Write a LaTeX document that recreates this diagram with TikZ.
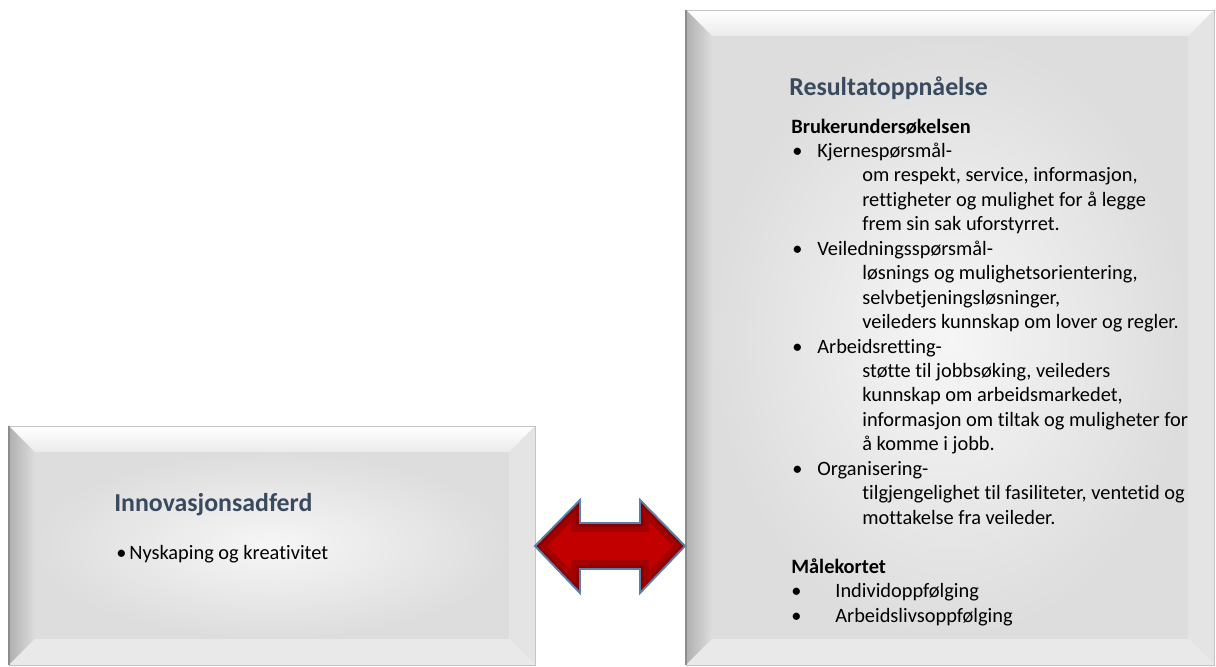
\documentclass[tikz,border=0pt]{standalone}
\usepackage{fontspec}
\setmainfont{Carlito}[Ligatures={NoCommon}]
\usetikzlibrary{calc}
\definecolor{titleblue}{HTML}{3A4A5E}
\definecolor{facelight}{HTML}{F6F6F6}
\definecolor{facedark}{HTML}{DDDDDD}
\definecolor{bevtop}{HTML}{FFFFFF}
\definecolor{bevleft}{HTML}{B0B0B0}
\definecolor{bevright}{HTML}{E4E4E4}
\definecolor{bevbottom}{HTML}{E9E9E9}
\definecolor{boxedge}{HTML}{C4C4C4}
\definecolor{arrowred}{HTML}{C20000}
\definecolor{arrowdark}{HTML}{5E0000}
\definecolor{arrowedge}{HTML}{5B7FA6}
\newcommand{\bev}{26}
\newcommand{\rowsep}{24.45}
% bevelled box: x1, y1 (top left), x2, y2 (bottom right)
\newcommand{\prbevel}[4]{
  \shade[inner color=facelight,outer color=facedark] ({#1+\bev},{#2+\bev}) rectangle ({#3-\bev},{#4-\bev});
  \shade[top color=bevtop,bottom color=facedark!60!white] (#1,#2) -- (#3,#2) -- ({#3-\bev},{#2+\bev}) -- ({#1+\bev},{#2+\bev}) -- cycle;
  \shade[left color=bevleft,right color=facedark] (#1,#2) -- ({#1+\bev},{#2+\bev}) -- ({#1+\bev},{#4-\bev}) -- (#1,#4) -- cycle;
  \fill[bevright] (#3,#2) -- (#3,#4) -- ({#3-\bev},{#4-\bev}) -- ({#3-\bev},{#2+\bev}) -- cycle;
  \fill[bevbottom] (#1,#4) -- ({#1+\bev},{#4-\bev}) -- ({#3-\bev},{#4-\bev}) -- (#3,#4) -- cycle;
  \draw[boxedge,line width=0.5pt] (#1,#2) rectangle (#3,#4);
  \draw[black!45,line width=0.8pt] (#1,#2) -- (#1,#4);
}
\newcommand{\prline}[4]{\node[bodytext] (#1) at (#2,{133+\rowsep*#3}) {#4};}
\newcommand{\prbul}[2]{\node[bodytext] (bul#1) at (#2,{133+\rowsep*#1}) {•};}
\newcommand{\arrowpath}{(aL) -- ++(45,-46) -- ++(0,23) -- ++(60,0) -- ++(0,-23) -- (aR) -- ++(-45,47) -- ++(0,-24) -- ++(-60,0) -- ++(0,24) -- cycle}
\tikzset{
  boxtitle/.style={anchor=base west,inner sep=0pt,text=titleblue,font=\fontsize{14.7}{17}\selectfont\bfseries},
  bodytext/.style={anchor=base west,inner sep=0pt,font=\fontsize{11.6}{13.9}\selectfont}
}

\begin{document}
\begin{tikzpicture}[x=0.02cm,y=-0.02cm]
    \useasboundingbox (0,0) rectangle (1216,666);

    \prbevel{9}{426}{535}{665}
    \prbevel{686}{10}{1214}{665}

    % double arrow between the boxes
    \coordinate (aL) at (535,546);
    \coordinate (aR) at (685,546);
    \fill[arrowred] \arrowpath;
    \begin{scope}
      \clip \arrowpath;
      \draw[arrowdark,line width=10pt,opacity=.3] \arrowpath;
      \draw[arrowdark,line width=4pt,opacity=.35] \arrowpath;
    \end{scope}
    \draw[arrowedge,line width=1.1pt] \arrowpath;

    % left box
    \node[boxtitle] (innov) at (114,511) {Innovasjonsadferd};
    \node[bodytext] (innovbul) at (116,559) {•};
    \node[bodytext] (nyskap) at (129,559) {Nyskaping og kreativitet};

    % right box
    \node[boxtitle] (result) at (789,95) {Resultatoppnåelse};
    \prline{bruker}{791}{0}{\bfseries Brukerundersøkelsen}
    \prbul{1}{792}
    \prline{kjerne}{817}{1}{Kjernespørsmål-}
    \prline{kjerneA}{862}{2}{om respekt, service, informasjon,}
    \prline{kjerneB}{862}{3}{rettigheter og mulighet for å legge}
    \prline{kjerneC}{862}{4}{frem sin sak uforstyrret.}
    \prbul{5}{792}
    \prline{veil}{817}{5}{Veiledningsspørsmål-}
    \prline{veilA}{862}{6}{løsnings og mulighetsorientering,}
    \prline{veilB}{862}{7}{selvbetjeningsløsninger,}
    \prline{veilC}{862}{8}{veileders kunnskap om lover og regler.}
    \prbul{9}{792}
    \prline{arb}{817}{9}{Arbeidsretting-}
    \prline{arbA}{862}{10}{støtte til jobbsøking, veileders}
    \prline{arbB}{862}{11}{kunnskap om arbeidsmarkedet,}
    \prline{arbC}{862}{12}{informasjon om tiltak og muligheter for}
    \prline{arbD}{862}{13}{å komme i jobb.}
    \prbul{14}{792}
    \prline{org}{817}{14}{Organisering-}
    \prline{orgA}{862}{15}{tilgjengelighet til fasiliteter, ventetid og}
    \prline{orgB}{862}{16}{mottakelse fra veileder.}
    \prline{maal}{791}{18}{\bfseries Målekortet}
    \prbul{19}{791}
    \prline{indiv}{835}{19}{Individoppfølging}
    \prbul{20}{791}
    \prline{arbliv}{835}{20}{Arbeidslivsoppfølging}
\end{tikzpicture}
\end{document}
